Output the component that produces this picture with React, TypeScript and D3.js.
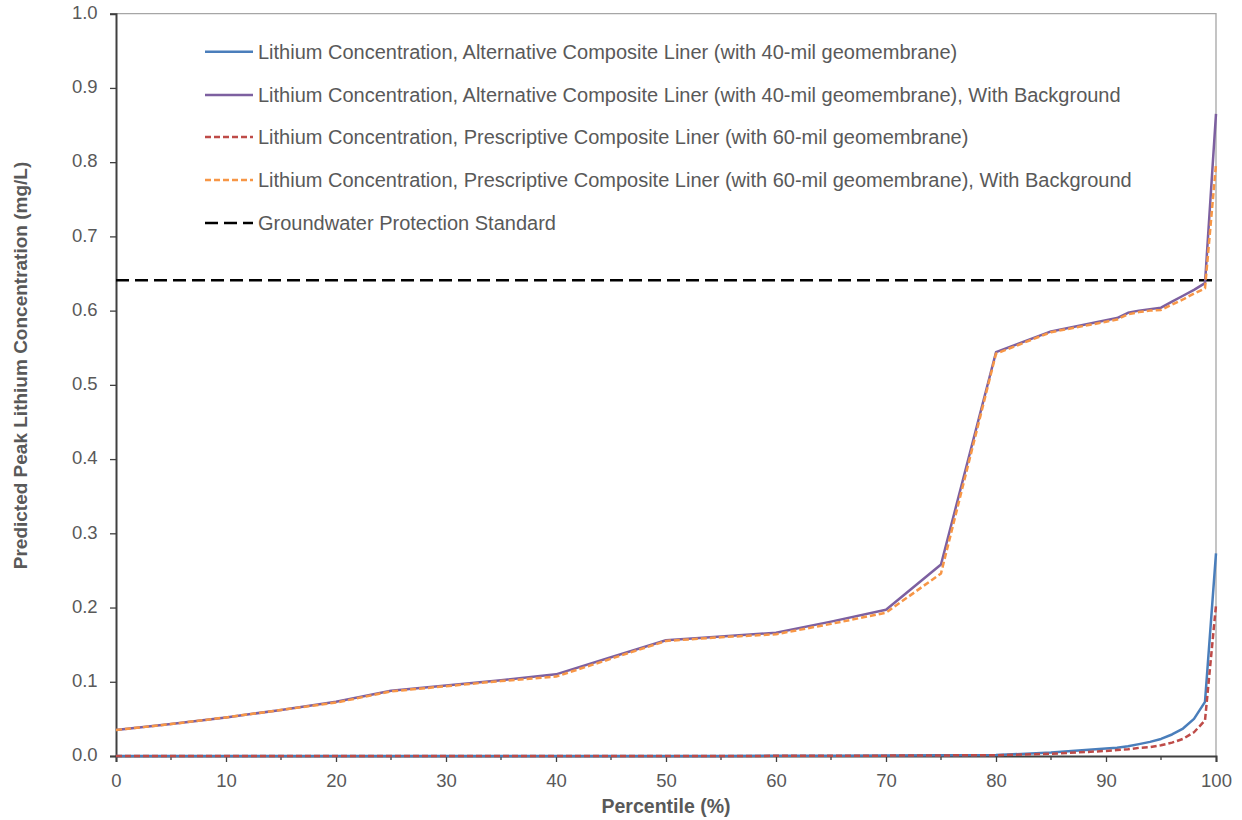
import React, { useEffect, useRef } from "react";
import * as d3 from "d3";

// percentiles (%) at which the model output was sampled
const percentiles = [0, 5, 10, 15, 20, 25, 30, 35, 40, 45, 50, 55, 60, 65, 70, 75, 80, 85, 90, 91, 92, 93, 94, 95, 96, 97, 98, 99, 100];

// alternative composite liner (40-mil)
const altLiner = [0, 0, 0, 0, 0, 0, 0, 0, 0, 0, 0, 0, 0.0003, 0.0005, 0.0008, 0.001, 0.0013, 0.0046, 0.010, 0.011, 0.013, 0.016, 0.019, 0.023, 0.029, 0.037, 0.050, 0.073, 0.273];
const altLinerBg = [0.035, 0.043, 0.052, 0.062, 0.073, 0.088, 0.095, 0.102, 0.110, 0.133, 0.156, 0.161, 0.166, 0.181, 0.197, 0.258, 0.544, 0.572, 0.587, 0.590, 0.597, 0.600, 0.602, 0.604, 0.612, 0.620, 0.628, 0.637, 0.865];

// prescriptive composite liner (60-mil)
const presLiner = [0, 0, 0, 0, 0, 0, 0, 0, 0, 0, 0, 0, 0.0002, 0.0003, 0.0005, 0.0008, 0.001, 0.003, 0.0068, 0.008, 0.009, 0.011, 0.012, 0.0144, 0.018, 0.023, 0.032, 0.048, 0.203];
const presLinerBg = [0.035, 0.043, 0.052, 0.062, 0.072, 0.087, 0.094, 0.101, 0.107, 0.131, 0.155, 0.160, 0.164, 0.178, 0.193, 0.246, 0.542, 0.571, 0.585, 0.588, 0.595, 0.598, 0.600, 0.601, 0.608, 0.615, 0.623, 0.630, 0.797];

const gwps = 0.641;

const seriesNames = [
  "Lithium Concentration, Alternative Composite Liner (with 40-mil geomembrane)",
  "Lithium Concentration, Alternative Composite Liner (with 40-mil geomembrane), With Background",
  "Lithium Concentration, Prescriptive Composite Liner (with 60-mil geomembrane)",
  "Lithium Concentration, Prescriptive Composite Liner (with 60-mil geomembrane), With Background",
  "Groundwater Protection Standard",
];

const xTicks = [0, 10, 20, 30, 40, 50, 60, 70, 80, 90, 100];
const xMinorTicks = [5, 15, 25, 35, 45, 55, 65, 75, 85, 95];
const yTicks = [0, 0.1, 0.2, 0.3, 0.4, 0.5, 0.6, 0.7, 0.8, 0.9, 1.0];

const App = () => {
  const ref = useRef<SVGSVGElement>(null);

  useEffect(() => {
    const W = 1242, H = 820;
    const m = { top: 13.7, right: 26, bottom: 64, left: 116 };
    const font = "'Liberation Sans', Arial, sans-serif";
    const textCol = "#595959";

    const svg = d3.select(ref.current);
    svg.selectAll("*").remove();

    const x = d3.scaleLinear().domain([0, 100]).range([m.left, W - m.right]);
    const y = d3.scaleLinear().domain([0, 1]).range([H - m.bottom, m.top]);

    // frame: top + right light gray
    svg.append("path")
      .attr("d", `M${x(0)},${y(1)}H${x(100)}V${y(0)}`)
      .attr("fill", "none")
      .attr("stroke", "#a6a6a6")
      .attr("stroke-width", 1.3);

    // y axis
    const yAxis = svg.append("g")
      .attr("transform", `translate(${x(0)},0)`)
      .call(d3.axisLeft(y).tickValues(yTicks).tickFormat(d3.format(".1f")).tickSizeOuter(0).tickSize(6));
    yAxis.select(".domain").attr("stroke", "#404040").attr("stroke-width", 2);
    yAxis.selectAll(".tick line").attr("stroke", "#404040").attr("stroke-width", 1.3);
    yAxis.selectAll(".tick text")
      .attr("x", -18.4)
      .attr("dy", "0.26em")
      .attr("fill", textCol)
      .style("font-family", font)
      .style("font-size", "18.5px");

    // x axis
    const xAxis = svg.append("g")
      .attr("transform", `translate(0,${y(0)})`)
      .call(d3.axisBottom(x).tickValues(xTicks).tickSizeOuter(0).tickSize(6));
    xAxis.select(".domain").attr("stroke", "#404040").attr("stroke-width", 2);
    xAxis.selectAll(".tick line").attr("stroke", "#404040").attr("stroke-width", 1.3);
    xAxis.selectAll(".tick text")
      .attr("y", 18)
      .attr("fill", textCol)
      .style("font-family", font)
      .style("font-size", "18.5px");

    svg.append("g")
      .selectAll("line")
      .data(xMinorTicks)
      .join("line")
      .attr("x1", (d) => x(d))
      .attr("x2", (d) => x(d))
      .attr("y1", y(0))
      .attr("y2", y(0) + 4)
      .attr("stroke", "#404040")
      .attr("stroke-width", 1.3);

    // axis titles
    svg.append("text")
      .attr("x", x(50))
      .attr("y", 813)
      .attr("text-anchor", "middle")
      .attr("fill", textCol)
      .style("font-family", font)
      .style("font-size", "19.5px")
      .style("font-weight", "bold")
      .text("Percentile (%)");

    svg.append("text")
      .attr("transform", `translate(27,365.5) rotate(-90)`)
      .attr("text-anchor", "middle")
      .attr("fill", textCol)
      .style("font-family", font)
      .style("font-size", "19px")
      .style("font-weight", "bold")
      .text("Predicted Peak Lithium Concentration (mg/L)");

    const line = d3.line<number>()
      .x((_, i) => x(percentiles[i]))
      .y((d) => y(d));

    const styles = [
      { data: altLinerBg, color: "#7d60a0", dash: null },
      { data: presLinerBg, color: "#f79646", dash: "6,3" },
      { data: altLiner, color: "#4a7ebb", dash: null },
      { data: presLiner, color: "#be4b48", dash: "6,3" },
    ];

    // groundwater protection standard
    svg.append("line")
      .attr("x1", x(0))
      .attr("x2", x(99.8))
      .attr("y1", y(gwps))
      .attr("y2", y(gwps))
      .attr("stroke", "#000")
      .attr("stroke-width", 2.5)
      .attr("stroke-dasharray", "13,6");

    styles.forEach((s) => {
      svg.append("path")
        .attr("d", line(s.data))
        .attr("fill", "none")
        .attr("stroke", s.color)
        .attr("stroke-width", 2.5)
        .attr("stroke-linejoin", "round")
        .attr("stroke-dasharray", s.dash);
    });

    // legend
    const legendItems = [
      { color: "#4a7ebb", dash: null },
      { color: "#7d60a0", dash: null },
      { color: "#be4b48", dash: "6,3" },
      { color: "#f79646", dash: "6,3" },
      { color: "#000", dash: "13,6" },
    ];
    const legendY = [51.7, 95, 137, 180, 223];
    const lg = svg.append("g");
    legendItems.forEach((it, i) => {
      lg.append("line")
        .attr("x1", 205)
        .attr("x2", 253)
        .attr("y1", legendY[i])
        .attr("y2", legendY[i])
        .attr("stroke", it.color)
        .attr("stroke-width", 2.5)
        .attr("stroke-dasharray", it.dash);
      lg.append("text")
        .attr("x", 258)
        .attr("y", legendY[i])
        .attr("dy", "0.35em")
        .attr("fill", textCol)
        .style("font-family", font)
        .style("font-size", "20px")
        .text(seriesNames[i]);
    });

    return () => {
      d3.select(ref.current).selectAll("*").remove();
    };
  }, []);

  return (
    <svg
      ref={ref}
      width={1242}
      height={820}
      style={{ position: "absolute", left: 0, top: 0, background: "#fff" }}
    />
  );
};

export default App;
